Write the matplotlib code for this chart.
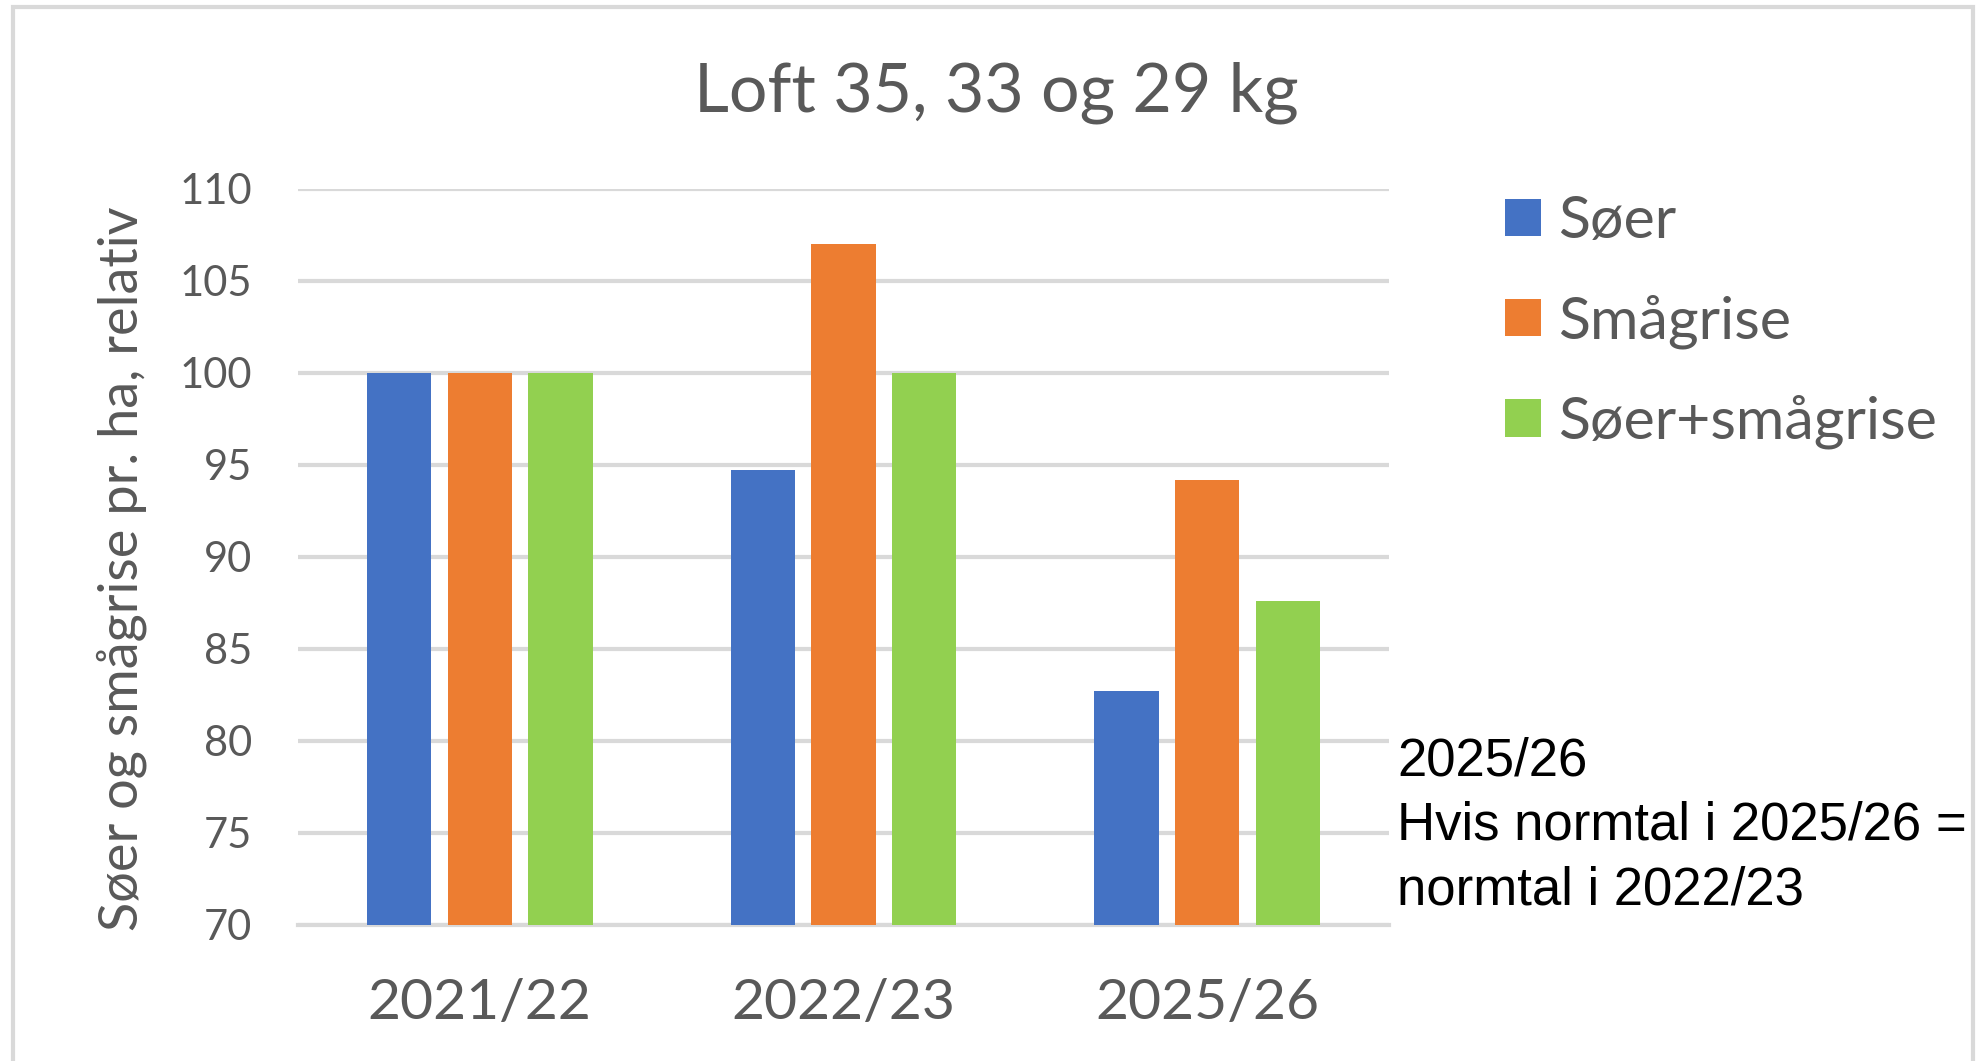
import matplotlib
matplotlib.use('Agg')
from matplotlib import pyplot as plt
from matplotlib.patches import Rectangle
import numpy as np

categories = ['2021/22', '2022/23', '2025/26']
soer = [100, 94.7, 82.7]
smagrise = [100, 107.0, 94.2]
soer_smagrise = [100, 100, 87.6]
series_names = ['Søer', 'Smågrise', 'Søer+smågrise']
colors = ['#4472C4', '#ED7D31', '#92D050']
y_ticks = [70, 75, 80, 85, 90, 95, 100, 105, 110]

title = 'Loft 35, 33 og 29 kg'
y_label = 'Søer og smågrise pr. ha, relativ'
note = '2025/26\nHvis normtal i 2025/26 =\nnormtal i 2022/23'

grey = '#595959'
plt.rcParams['font.family'] = ['Lato', 'DejaVu Sans']

fig = plt.figure(figsize=(19.77, 10.61), dpi=100)
ax = fig.add_axes([0.1507, 0.1282, 0.7026 - 0.1507, 0.8219 - 0.1282])

# outer chart frame
fig.patches.append(Rectangle((13 / 1977, -0.05), (1973 - 13) / 1977, 1 - 7 / 1061 + 0.05,
                             transform=fig.transFigure, fill=False,
                             edgecolor='#D9D9D9', linewidth=3))

x = np.arange(len(categories))
width = 0.177
step = 0.222
for i, (vals, name, col) in enumerate(zip([soer, smagrise, soer_smagrise], series_names, colors)):
    ax.bar(x + (i - 1) * step, np.array(vals) - 70, width, bottom=70,
           color=col, label=name, zorder=3)

ax.set_xlim(-0.5, 2.5)
ax.set_ylim(70, 110)
ax.set_yticks(y_ticks)
ax.set_xticks(x)
ax.set_xticklabels(categories, fontsize=41, color=grey)
ax.tick_params(axis='y', labelsize=30, colors=grey, length=0, pad=33)
ax.tick_params(axis='x', length=0, pad=38)
ax.grid(axis='y', color='#D9D9D9', linewidth=3, zorder=0)
for s in ['top', 'right', 'left']:
    ax.spines[s].set_visible(False)
ax.spines['bottom'].set_color('#D9D9D9')
ax.spines['bottom'].set_linewidth(3)

ax.set_ylabel(y_label, fontsize=39, color=grey)
ax.yaxis.set_label_coords(-0.138, 0.484)
fig.text(996 / 1977, 1 - 93 / 1061, title, fontsize=49, color=grey,
         ha='center', va='center')

leg = fig.legend(loc='upper left', bbox_to_anchor=(1452 / 1977, 1 - 142 / 1061),
                 frameon=False, fontsize=42.5, handlelength=0.6, handleheight=0.6,
                 handletextpad=0.3, labelspacing=0.78, labelcolor=grey)

fig.text(1397 / 1977, 1 - 826 / 1061, note, fontsize=38, color='black',
         family=['Liberation Sans', 'DejaVu Sans'], ha='left', va='center',
         linespacing=1.37)

fig.savefig('out.png', dpi=100)
